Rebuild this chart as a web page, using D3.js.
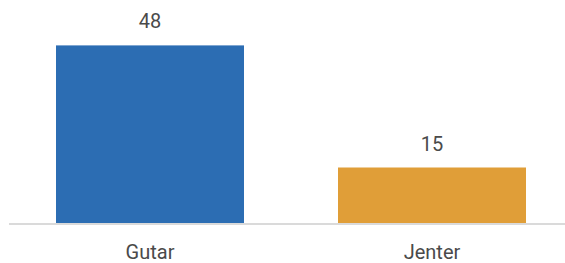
<!DOCTYPE html>
<html>
<head>
<meta charset="utf-8">
<script src="https://cdn.jsdelivr.net/npm/d3@7.9.0/dist/d3.min.js"></script>
<style>
  html, body { margin: 0; padding: 0; background: #fff; }
  svg { display: block; }
  text { font-family: Roboto, "Noto Sans", sans-serif; fill: #4a4a4a; }
</style>
</head>
<body>
<svg id="chart" width="565" height="263"></svg>
<script>
// ---- data ----
const categories = ['Gutar', 'Jenter'];
const values = [48, 15];
const barColors = ['#2c6db3', '#e09e38'];

// ---- layout ----
const width = 565, height = 263;
const baseY = 223;

const svg = d3.select('#chart');

const x = d3.scaleBand()
  .domain(categories)
  .range([9, 573])
  .paddingInner(1 / 3)
  .paddingOuter(1 / 6);

const y = d3.scaleLinear()
  .domain([0, 60])
  .range([baseY, 1]);

// bars
svg.selectAll('rect.bar')
  .data(categories)
  .join('rect')
  .attr('class', 'bar')
  .attr('x', (d) => x(d))
  .attr('width', x.bandwidth())
  .attr('y', (d, i) => y(values[i]))
  .attr('height', (d, i) => y(0) - y(values[i]))
  .attr('fill', (d, i) => barColors[i]);

// baseline
svg.append('line')
  .attr('x1', 9).attr('x2', 573)
  .attr('y1', baseY + 1).attr('y2', baseY + 1)
  .attr('stroke', '#dadada')
  .attr('stroke-width', 2);

// value labels
svg.selectAll('text.val')
  .data(categories)
  .join('text')
  .attr('class', 'val')
  .attr('x', (d) => x(d) + x.bandwidth() / 2)
  .attr('y', (d, i) => y(values[i]) - 17)
  .attr('text-anchor', 'middle')
  .style('font-size', '20px')
  .text((d, i) => values[i]);

// category labels
svg.selectAll('text.cat')
  .data(categories)
  .join('text')
  .attr('class', 'cat')
  .attr('x', (d) => x(d) + x.bandwidth() / 2)
  .attr('y', 259)
  .attr('text-anchor', 'middle')
  .style('font-size', '20px')
  .text((d) => d);
</script>
</body>
</html>
